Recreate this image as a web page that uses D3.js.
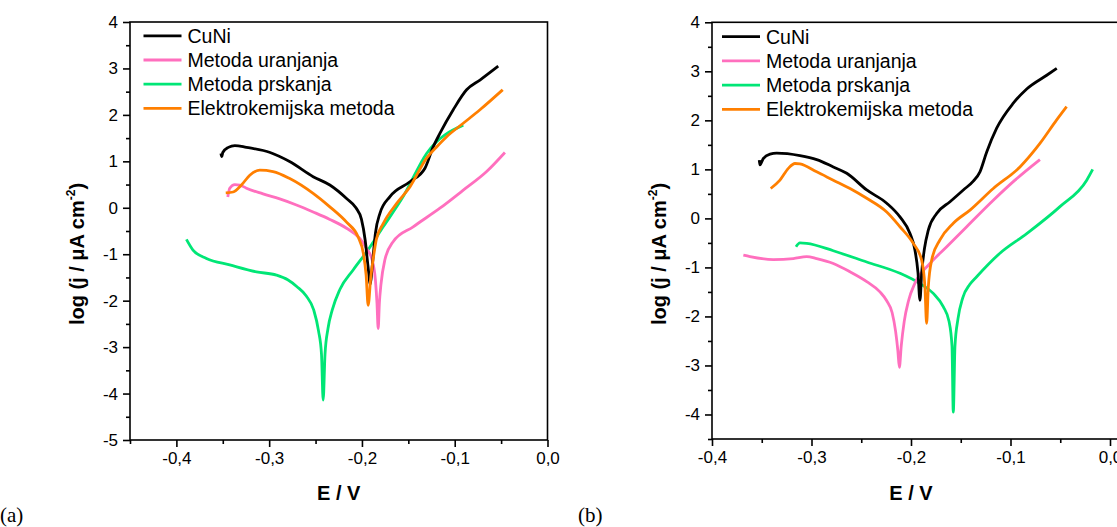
<!DOCTYPE html>
<html><head><meta charset="utf-8">
<script src="https://cdn.jsdelivr.net/npm/d3@7"></script>
<style>body{margin:0;background:#fff}svg{display:block}</style>
</head><body>
<svg id="c" width="1117" height="527"></svg>
<script>
// ---------- data ----------
const seriesNames = ["CuNi", "Metoda uranjanja", "Metoda prskanja", "Elektrokemijska metoda"];
const seriesColors = ["#000000", "#ff6fbe", "#00e676", "#ff7f00"];

// panel (a)  [E / V, log j]
const aCuNi = [[-0.352,1.17],[-0.351,1.10],[-0.350,1.19],[-0.344,1.30],[-0.337,1.34],[-0.3245,1.30],[-0.299,1.19],[-0.2775,0.99],[-0.2526,0.67],[-0.2346,0.49],[-0.2166,0.20],[-0.2065,0.00],[-0.2005,-0.25],[-0.1965,-0.70],[-0.1935,-1.25],[-0.191,-1.65],[-0.1893,-1.35],[-0.1875,-0.95],[-0.1855,-0.55],[-0.1806,-0.12],[-0.1698,0.24],[-0.1483,0.56],[-0.1321,0.85],[-0.1232,1.31],[-0.116,1.60],[-0.1016,2.11],[-0.0872,2.54],[-0.0728,2.75],[-0.0531,3.05]];
const aUranjanja = [[-0.3446,0.23],[-0.3425,0.42],[-0.337,0.50],[-0.3317,0.49],[-0.3245,0.42],[-0.3066,0.30],[-0.2886,0.19],[-0.2706,0.06],[-0.2526,-0.09],[-0.2346,-0.25],[-0.2166,-0.44],[-0.2023,-0.66],[-0.195,-0.88],[-0.189,-1.12],[-0.1855,-1.55],[-0.1838,-2.05],[-0.1825,-2.60],[-0.1812,-2.05],[-0.1795,-1.65],[-0.1754,-1.13],[-0.1664,-0.73],[-0.1448,-0.41],[-0.116,-0.01],[-0.0908,0.38],[-0.0656,0.78],[-0.0459,1.19]];
const aPrskanja = [[-0.3892,-0.68],[-0.3821,-0.91],[-0.3676,-1.09],[-0.3425,-1.23],[-0.3137,-1.38],[-0.2921,-1.45],[-0.280,-1.55],[-0.270,-1.70],[-0.260,-1.90],[-0.252,-2.20],[-0.2468,-2.65],[-0.2436,-3.15],[-0.2418,-4.14],[-0.2398,-3.15],[-0.2366,-2.60],[-0.232,-2.20],[-0.2238,-1.76],[-0.2095,-1.34],[-0.195,-0.95],[-0.1771,-0.41],[-0.1556,0.24],[-0.1303,1.17],[-0.0908,1.78]];
const aElektro = [[-0.3468,0.32],[-0.3389,0.34],[-0.3299,0.49],[-0.3209,0.70],[-0.3101,0.81],[-0.2958,0.78],[-0.2778,0.63],[-0.2526,0.31],[-0.2346,0.02],[-0.2166,-0.31],[-0.2041,-0.63],[-0.1985,-0.98],[-0.1955,-1.45],[-0.1933,-2.10],[-0.1905,-1.50],[-0.1875,-1.05],[-0.1845,-0.68],[-0.1771,-0.34],[-0.1627,0.09],[-0.1483,0.45],[-0.1303,1.07],[-0.1195,1.31],[-0.1087,1.53],[-0.0908,1.82],[-0.0728,2.11],[-0.0483,2.54]];

// panel (b)
const bCuNi = [[-0.3525,1.19],[-0.3518,1.09],[-0.3485,1.22],[-0.3417,1.31],[-0.335,1.33],[-0.3116,1.28],[-0.2948,1.20],[-0.2781,1.05],[-0.2646,0.92],[-0.2445,0.58],[-0.2244,0.31],[-0.2111,0.03],[-0.201,-0.31],[-0.196,-0.65],[-0.193,-1.10],[-0.191,-1.67],[-0.1893,-1.12],[-0.1865,-0.62],[-0.1826,-0.24],[-0.1742,0.10],[-0.1608,0.34],[-0.1474,0.58],[-0.1374,0.76],[-0.1307,0.95],[-0.124,1.35],[-0.1139,1.84],[-0.0972,2.35],[-0.0837,2.64],[-0.0636,2.92],[-0.0535,3.06]];
const bUranjanja = [[-0.3685,-0.75],[-0.3618,-0.78],[-0.3384,-0.84],[-0.3183,-0.82],[-0.3048,-0.78],[-0.2948,-0.82],[-0.2781,-0.92],[-0.2613,-1.09],[-0.2445,-1.29],[-0.2312,-1.50],[-0.2244,-1.68],[-0.219,-1.92],[-0.2155,-2.30],[-0.2132,-2.70],[-0.2117,-3.04],[-0.2098,-2.60],[-0.2068,-2.10],[-0.2025,-1.68],[-0.196,-1.32],[-0.1809,-0.92],[-0.1641,-0.58],[-0.144,-0.17],[-0.1173,0.37],[-0.0955,0.78],[-0.0704,1.20]];
const bPrskanja = [[-0.3156,-0.58],[-0.3116,-0.50],[-0.3048,-0.51],[-0.2781,-0.66],[-0.2445,-0.89],[-0.2111,-1.12],[-0.191,-1.33],[-0.1776,-1.53],[-0.1676,-1.80],[-0.1618,-2.10],[-0.1588,-2.60],[-0.1575,-3.95],[-0.1558,-2.60],[-0.1528,-2.05],[-0.148,-1.62],[-0.1410,-1.35],[-0.134,-1.19],[-0.1106,-0.71],[-0.0837,-0.31],[-0.0503,0.24],[-0.0234,0.78],[-0.0174,1.00]];
const bElektro = [[-0.341,0.61],[-0.3317,0.78],[-0.3233,1.02],[-0.3166,1.12],[-0.3116,1.11],[-0.2948,0.95],[-0.2781,0.78],[-0.2613,0.61],[-0.2445,0.41],[-0.2244,0.13],[-0.2111,-0.17],[-0.1977,-0.51],[-0.1893,-0.85],[-0.186,-1.40],[-0.1843,-2.14],[-0.1826,-1.40],[-0.1792,-0.85],[-0.1709,-0.44],[-0.1575,-0.10],[-0.1407,0.17],[-0.1173,0.61],[-0.0905,1.05],[-0.0704,1.53],[-0.0536,2.01],[-0.0436,2.28]];

// ticks
const aXTicks = [-0.4, -0.3, -0.2, -0.1, 0.0];
const aXTickLabels = ["-0,4", "-0,3", "-0,2", "-0,1", "0,0"];
const aXMinor = [-0.45, -0.35, -0.25, -0.15, -0.05];
const aYTicks = [-5, -4, -3, -2, -1, 0, 1, 2, 3, 4];
const aYTickLabels = ["-5", "-4", "-3", "-2", "-1", "0", "1", "2", "3", "4"];
const aYMinor = [-4.5, -3.5, -2.5, -1.5, -0.5, 0.5, 1.5, 2.5, 3.5];

const bXTicks = [-0.4, -0.3, -0.2, -0.1, 0.0];
const bXTickLabels = ["-0,4", "-0,3", "-0,2", "-0,1", "0,0"];
const bXMinor = [-0.35, -0.25, -0.15, -0.05];
const bYTicks = [-4, -3, -2, -1, 0, 1, 2, 3, 4];
const bYTickLabels = ["-4", "-3", "-2", "-1", "0", "1", "2", "3", "4"];
const bYMinor = [-4.5, -3.5, -2.5, -1.5, -0.5, 0.5, 1.5, 2.5, 3.5];

const xTitle = "E / V";
const panelLetters = ["(a)", "(b)"];

// ---------- drawing ----------
const svg = d3.select("#c");
svg.append("rect").attr("width", 1117).attr("height", 527).attr("fill", "#fff");
const SANS = "'Liberation Sans', Arial, sans-serif";

function panel(cfg) {
  const x = d3.scaleLinear().domain(cfg.xDomain).range(cfg.xRange);
  const y = d3.scaleLinear().domain(cfg.yDomain).range([cfg.yBottom, cfg.yTop]);
  const g = svg.append("g");
  const series = [cfg.s0, cfg.s1, cfg.s2, cfg.s3];
  const line = d3.line().x(d => x(d[0])).y(d => y(d[1])).curve(d3.curveMonotoneX);
  const order = [2, 1, 0, 3];
  order.forEach(i => {
    g.append("path").datum(series[i]).attr("d", line)
      .attr("fill", "none").attr("stroke", seriesColors[i])
      .attr("stroke-width", 2.8).attr("stroke-linejoin", "round").attr("stroke-linecap", "butt");
  });

  // frame
  const [xl, xr] = cfg.xRange;
  g.append("rect").attr("x", xl).attr("y", cfg.yTop).attr("width", xr - xl).attr("height", cfg.yBottom - cfg.yTop)
    .attr("fill", "none").attr("stroke", "#000").attr("stroke-width", 1.6);

  // axes
  const xAx = g.append("g").attr("transform", `translate(0,${cfg.yBottom})`)
    .call(d3.axisBottom(x).tickValues(cfg.xTicks).tickSize(7).tickPadding(5)
      .tickFormat((d, i) => cfg.xTickLabels[i]));
  const xMin = g.append("g").attr("transform", `translate(0,${cfg.yBottom})`)
    .call(d3.axisBottom(x).tickValues(cfg.xMinor).tickSize(4).tickFormat(""));
  const yAx = g.append("g").attr("transform", `translate(${xl},0)`)
    .call(d3.axisLeft(y).tickValues(cfg.yTicks).tickSize(7).tickPadding(5)
      .tickFormat((d, i) => cfg.yTickLabels[i]));
  const yMin = g.append("g").attr("transform", `translate(${xl},0)`)
    .call(d3.axisLeft(y).tickValues(cfg.yMinor).tickSize(4).tickFormat(""));
  [xAx, xMin, yAx, yMin].forEach(a => {
    a.select(".domain").remove();
    a.selectAll("line").attr("stroke", "#000").attr("stroke-width", 1.6);
    a.selectAll("text").attr("font-family", SANS).attr("font-size", 17).attr("fill", "#000");
  });

  // axis titles
  const cx = (xl + x(0)) / 2;
  g.append("text").attr("x", cx).attr("y", 500).attr("text-anchor", "middle")
    .attr("font-family", SANS).attr("font-weight", "bold").attr("font-size", 20).text(xTitle);
  const yt = g.append("text").attr("transform", `translate(${xl - 46},${254}) rotate(-90)`)
    .attr("text-anchor", "middle").attr("font-family", SANS).attr("font-weight", "bold").attr("font-size", 20);
  yt.append("tspan").text("log (j / \u03bcA cm");
  yt.append("tspan").attr("dy", -9).attr("font-size", 12).text("-2");
  yt.append("tspan").attr("dy", 9).text(")");

  // legend
  seriesNames.forEach((n, i) => {
    const ly = cfg.legY + i * 24.2;
    g.append("line").attr("x1", cfg.legX).attr("x2", cfg.legX + 38).attr("y1", ly).attr("y2", ly)
      .attr("stroke", seriesColors[i]).attr("stroke-width", 2.8);
    g.append("text").attr("x", cfg.legX + 44).attr("y", ly).attr("dy", "0.36em")
      .attr("font-family", SANS).attr("font-size", 19.5).attr("fill", "#000").text(n);
  });

  // panel letter
  svg.append("text").attr("x", cfg.letterX).attr("y", 522).attr("font-family", "'Liberation Serif', 'Times New Roman', serif")
    .attr("font-size", 21).text(cfg.letter);
}

panel({xDomain: [-0.45, 0], xRange: [130, 547.5], yDomain: [-5, 4], yTop: 22, yBottom: 440,
  s0: aCuNi, s1: aUranjanja, s2: aPrskanja, s3: aElektro,
  xTicks: aXTicks, xTickLabels: aXTickLabels, xMinor: aXMinor,
  yTicks: aYTicks, yTickLabels: aYTickLabels, yMinor: aYMinor,
  legX: 143.5, legY: 35.8, letter: panelLetters[0], letterX: 0});

panel({xDomain: [-0.4, 0.015], xRange: [712, 712 + 0.415 * 995], yDomain: [-4.5, 4], yTop: 22.3, yBottom: 439,
  s0: bCuNi, s1: bUranjanja, s2: bPrskanja, s3: bElektro,
  xTicks: bXTicks, xTickLabels: bXTickLabels, xMinor: bXMinor,
  yTicks: bYTicks, yTickLabels: bYTickLabels, yMinor: bYMinor,
  legX: 722, legY: 36.7, letter: panelLetters[1], letterX: 578});
</script>
</body></html>
